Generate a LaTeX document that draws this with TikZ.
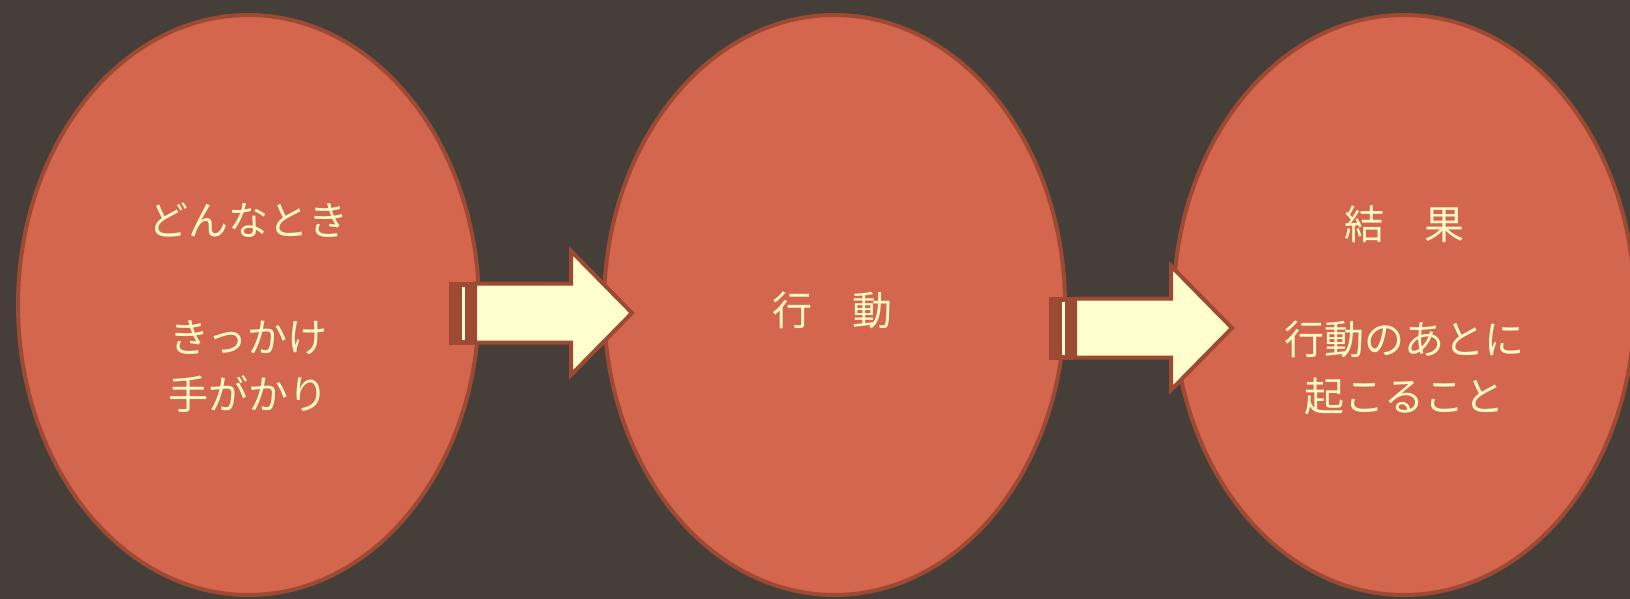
\documentclass[tikz,border=0pt]{standalone}
\usepackage{fontspec}
\newfontfamily\jpfont{Noto Sans CJK JP}
\definecolor{bgc}{HTML}{463E39}
\definecolor{ellfill}{HTML}{D3664C}
\definecolor{ellline}{HTML}{9C4A33}
\definecolor{txtc}{HTML}{FFF9C8}
\definecolor{arrfill}{HTML}{FFFECC}
\tikzset{
  bubble/.style={ellipse, draw=ellline, fill=ellfill, line width=4pt, minimum width=461pt, minimum height=580pt, inner sep=0pt},
  label/.style={text=txtc, align=center, font=\jpfont\fontsize{40pt}{57pt}\selectfont},
  pics/blockarrow/.style={code={
    \fill[ellline] (0,-31.5) rectangle (24,31.5);
    \fill[arrfill] (13,-26.5) rectangle (16,27);
    \draw[ellline, fill=arrfill, line width=4pt, line join=miter]
      (26,-29.5) -- (122,-29.5) -- (122,-62) -- (183,0) -- (122,62) -- (122,29.5) -- (26,29.5) -- cycle;
  }}
}
\usetikzlibrary{shapes.geometric}
\begin{document}
\begin{tikzpicture}[x=1pt,y=-1pt]
\fill[bgc] (0,0) rectangle (1630,599);
\useasboundingbox (0,0) rectangle (1630,599);
\node[bubble] (e1) at (248.5,305) {};
\node[bubble] (e2) at (834.5,305) {};
\node[bubble] (e3) at (1404,305) {};
\pic at (449,313) {blockarrow};
\pic at (1049,328) {blockarrow};
\node[label] (t1) at (248.5,308) {どんなとき\\[60pt]きっかけ\\手がかり};
\node[label] (t2) at (832,310) {行　動};
\node[label] (t3) at (1404,310.5) {結　果\\[58pt]行動のあとに\\起こること};
\end{tikzpicture}
\end{document}
